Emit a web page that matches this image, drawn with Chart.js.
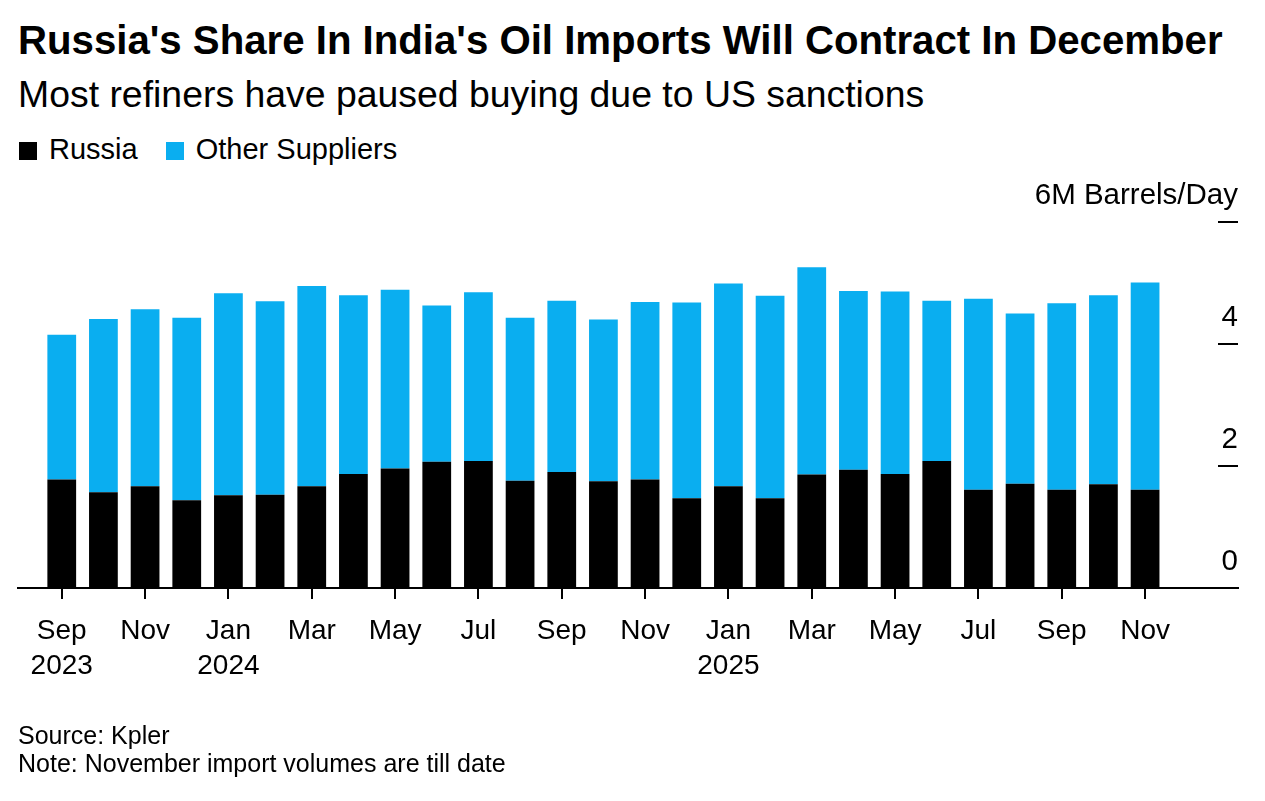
<!DOCTYPE html>
<html lang="en">
<head>
  <meta charset="UTF-8" />
  <title>Russia's Share In India's Oil Imports</title>
  <script src="https://cdn.jsdelivr.net/npm/chart.js"></script>
  <style>
    body { margin: 0; background: #fff; font-family: "Liberation Sans", Arial, sans-serif; color: #000; }
    .txt { position: absolute; left: 18px; white-space: nowrap; }
    #title { top: 21px; font-size: 40.2px; line-height: 40px; font-weight: bold; }
    #subtitle { top: 76px; font-size: 37.4px; line-height: 36px; }
    #legend { top: 135px; left: 19px; font-size: 29px; line-height: 28px; }
    #legend span.sw { display: inline-block; width: 18px; height: 18px; vertical-align: -1px; margin-right: 12px; }
    #legend span.item { margin-right: 20px; }
    .foot { font-size: 25px; line-height: 24px; }
    #chartBox { position: absolute; left: 0; top: 0; width: 1265px; height: 801px; }
  </style>
</head>
<body>

  <!-- header -->
  <div id="title" class="txt">Russia's Share In India's Oil Imports Will Contract In December</div>
  <div id="subtitle" class="txt">Most refiners have paused buying due to US sanctions</div>
  <div id="legend" class="txt">
    <span class="item"><span class="sw" style="background:#000"></span>Russia</span>
    <span class="item"><span class="sw" style="background:#0aaef0"></span>Other Suppliers</span>
  </div>

  <!-- chart -->
  <div id="chartBox"><canvas id="barChart"></canvas></div>

  <!-- footer -->
  <div class="txt foot" style="top:723px">Source: Kpler</div>
  <div class="txt foot" style="top:751px">Note: November import volumes are till date</div>

  <script>
    // monthly data, Sep 2023 .. Nov 2025 (million barrels/day)
    const months = [
      "2023-09", "2023-10", "2023-11", "2023-12",
      "2024-01", "2024-02", "2024-03", "2024-04", "2024-05", "2024-06",
      "2024-07", "2024-08", "2024-09", "2024-10", "2024-11", "2024-12",
      "2025-01", "2025-02", "2025-03", "2025-04", "2025-05", "2025-06",
      "2025-07", "2025-08", "2025-09", "2025-10", "2025-11"
    ];
    const russia = [
      1.78, 1.57, 1.67, 1.44,
      1.52, 1.53, 1.67, 1.87, 1.96, 2.07,
      2.08, 1.76, 1.90, 1.75, 1.78, 1.47,
      1.67, 1.47, 1.86, 1.94, 1.87, 2.08,
      1.61, 1.71, 1.61, 1.70, 1.61
    ];
    const others = [
      2.37, 2.84, 2.90, 2.99,
      3.31, 3.17, 3.28, 2.93, 2.93, 2.56,
      2.77, 2.67, 2.81, 2.65, 2.91, 3.21,
      3.32, 3.32, 3.40, 2.93, 2.99, 2.63,
      3.13, 2.79, 3.06, 3.10, 3.40
    ];

    // x axis: a tick every other month
    const xTickIdx = [0, 2, 4, 6, 8, 10, 12, 14, 16, 18, 20, 22, 24, 26];
    const xTickLabels = [
      ["Sep", "2023"], "Nov", ["Jan", "2024"], "Mar", "May", "Jul", "Sep",
      "Nov", ["Jan", "2025"], "Mar", "May", "Jul", "Sep", "Nov"
    ];
    // y axis (right side)
    const yTickValues = [0, 2, 4, 6];
    const yTickLabels = ["0", "2", "4", "6M Barrels/Day"];

    const FONT = "'Liberation Sans', Arial, sans-serif";

    // right-hand y ticks: short dash with the label sitting above it
    const yTicksPlugin = {
      id: 'yTicks',
      afterDraw(chart) {
        const { ctx, chartArea, scales: { y } } = chart;
        ctx.save();
        ctx.strokeStyle = '#000';
        ctx.fillStyle = '#000';
        ctx.lineWidth = 2;
        ctx.font = "29.5px " + FONT;
        ctx.textAlign = 'right';
        ctx.textBaseline = 'alphabetic';
        yTickValues.forEach((v, i) => {
          const py = y.getPixelForValue(v);
          if (v > 0) {
            ctx.beginPath();
            ctx.moveTo(chartArea.right - 20, py);
            ctx.lineTo(chartArea.right, py);
            ctx.stroke();
          }
          ctx.fillText(yTickLabels[i], chartArea.right, py - 18);
        });
        ctx.restore();
      }
    };

    new Chart(document.getElementById("barChart").getContext("2d"), {
      type: 'bar',
      data: {
        datasets: [{
          label: 'Russia',
          data: russia.map((v, i) => ({ x: i, y: v })),
          backgroundColor: '#000000'
        }, {
          label: 'Other Suppliers',
          data: others.map((v, i) => ({ x: i, y: v })),
          backgroundColor: '#0aaef0'
        }]
      },
      options: {
        responsive: true,
        maintainAspectRatio: false,
        animation: false,
        events: [],
        devicePixelRatio: 1,
        layout: { padding: { top: 222, left: 18, right: 27, bottom: 113 } },
        datasets: { bar: { categoryPercentage: 1, barPercentage: 0.69, borderWidth: 0 } },
        plugins: { legend: { display: false }, title: { display: false }, tooltip: { enabled: false } },
        scales: {
          x: {
            type: 'linear',
            stacked: true,
            offset: false,
            min: -1.05,
            max: 28.23,
            afterBuildTicks: s => { s.ticks = xTickIdx.map(v => ({ value: v })); },
            afterFit: s => { s.height = 100; },
            grid: { display: true, offset: false, drawOnChartArea: false, drawTicks: true, tickLength: 11, color: '#000', lineWidth: 2 },
            border: { display: true, color: '#000', width: 2 },
            ticks: {
              autoSkip: false,
              maxRotation: 0,
              padding: 15,
              color: '#000',
              font: { family: FONT, size: 28, lineHeight: 1.25 },
              callback: v => {
                const k = xTickIdx.indexOf(v);
                return k >= 0 ? xTickLabels[k] : '';
              }
            }
          },
          y: {
            display: false,
            stacked: true,
            min: 0,
            max: 6,
            ticks: { stepSize: 2 }
          }
        }
      },
      plugins: [yTicksPlugin]
    });
  </script>

</body>
</html>
